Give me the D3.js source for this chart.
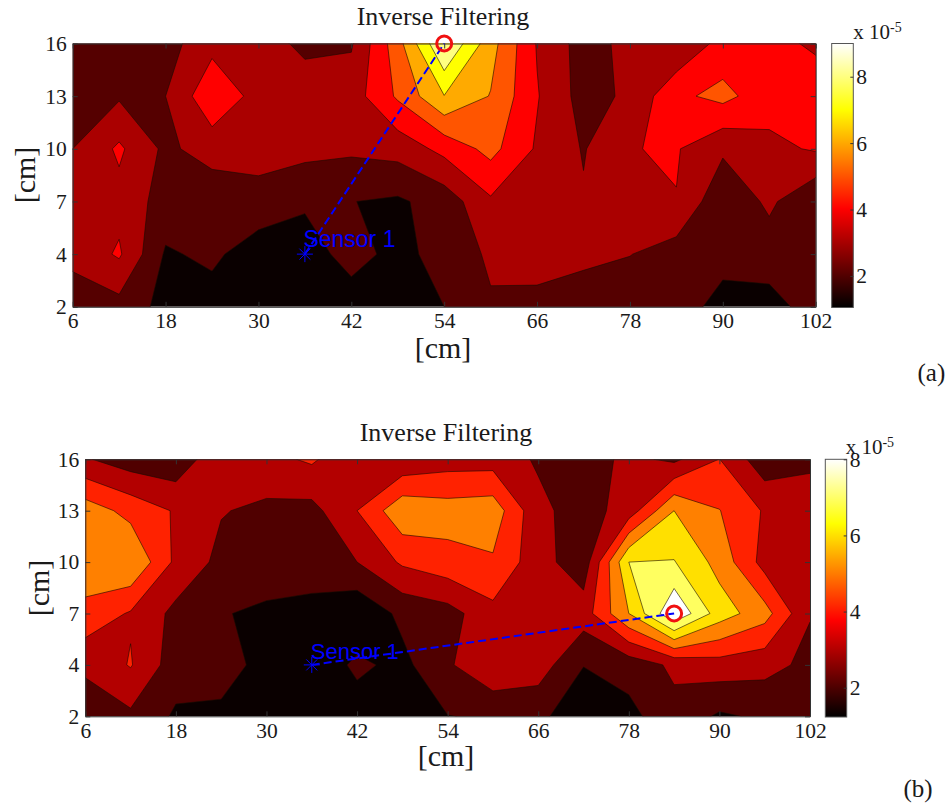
<!DOCTYPE html>
<html>
<head>
<meta charset="utf-8">
<script src="https://cdn.jsdelivr.net/npm/d3@7"></script>
<style>
  body { margin: 0; background: #fff; }
  text { font-family: "Liberation Serif", serif; fill: #1a1a1a; }
  .axis text { font-size: 21.5px; }
  .axis path, .axis line { stroke: #333; }
</style>
</head>
<body>
<svg id="chart" width="949" height="803"></svg>
<script>
const xGrid = [6, 12, 18, 24, 30, 36, 42, 48, 54, 60, 66, 72, 78, 84, 90, 96, 102];
const xTicks = [6, 18, 30, 42, 54, 66, 78, 90, 102];
const yTicks = [16, 13, 10, 7, 4, 2];
const levels = [2, 3, 4, 5, 6, 7, 8];

// values in units of 1e-5, one row per y tick, top row first
const gridA16 = [2.3, 2.3, 2.6, 3.7, 3.6, 2.7, 2.9, 5.6, 9.1, 6.4, 3.93, 2.58, 3.29, 3.08, 4.36, 4.32, 3.83];
const gridA13 = [2.7, 2.88, 3.0, 4.75, 3.65, 3.7, 3.5, 5.15, 6.97, 5.95, 4.07, 2.6, 3.19, 4.78, 5.3, 4.4, 4.6];
const gridA10 = [3.0, 4.17, 2.78, 3.46, 3.4, 3.3, 3.18, 3.38, 4.3, 5.32, 3.87, 2.93, 3.97, 4.08, 3.17, 3.77, 4.1];
const gridA7 = [3.4, 3.67, 2.59, 2.28, 2.62, 2.15, 2.02, 1.85, 2.42, 3.85, 3.4, 3.1, 3.5, 3.97, 2.2, 3.2, 2.09];
const gridA4 = [3.3, 4.13, 1.88, 2.2, 1.47, 1.5, 2.4, 1.67, 2.4, 3.15, 3.3, 3.2, 3.03, 2.52, 2.5, 2.5, 2.6];
const gridA2 = [2.4, 2.65, 1.68, 1.58, 1.2, 1.1, 1.47, 1.3, 2.0, 2.9, 2.79, 2.55, 2.3, 2.7, 1.48, 1.62, 2.45];

const gridB16 = [3.1, 2.47, 2.3, 3.8, 3.7, 4.15, 3.15, 3.18, 3.54, 3.55, 2.88, 2.5, 3.25, 2.8, 4.02, 2.35, 2.7];
const gridB13 = [5.54, 4.68, 3.9, 3.06, 2.78, 2.68, 4.0, 5.74, 5.46, 5.59, 3.25, 2.54, 3.45, 6.0, 5.03, 3.9, 3.8];
const gridB10 = [5.7, 5.98, 3.78, 2.72, 2.45, 2.5, 3.0, 4.15, 4.64, 4.87, 3.4, 2.4, 7.0, 7.05, 5.65, 3.62, 3.5];
const gridB7 = [4.67, 3.9, 2.72, 2.05, 1.85, 1.68, 1.18, 2.25, 2.6, 3.7, 3.4, 3.5, 6.0, 8.9, 6.5, 5.4, 3.05];
const gridB4 = [3.25, 4.07, 2.45, 2.3, 1.76, 1.3, 2.2, 1.73, 2.85, 3.92, 3.5, 2.03, 2.4, 3.2, 3.56, 3.34, 2.75];
const gridB2 = [2.25, 2.8, 1.86, 1.85, 1.2, 1.2, 1.53, 1.4, 1.98, 2.1, 2.25, 1.29, 1.71, 2.68, 1.85, 2.17, 2.3];

const sensor = [36, 4];
const peakA = [54, 16];
const peakB = [84, 7];
const barTicks = [2, 4, 6, 8];

const svg = d3.select("#chart");
const defs = svg.append("defs");

// matlab "hot" colormap
function hot(t) {
  const c = v => Math.round(255 * Math.max(0, Math.min(1, v)));
  return d3.rgb(c(t / 0.375), c((t - 0.375) / 0.375), c((t - 0.75) / 0.25)).formatHex();
}

function drawPanel(p) {
  const g = svg.append("g");
  const values = p.rows.flat();

  const xScale = d3.scaleLinear().domain([6, 102]).range([p.left, p.right]);
  const yIndex = d3.scaleLinear().domain([0, yTicks.length - 1]).range([p.top, p.bottom]);
  const yScale = d3.scaleLinear().domain(yTicks).range(yTicks.map((d, i) => yIndex(i)));
  const bandColor = d3.scaleOrdinal().domain(levels).range(p.bands);

  defs.append("clipPath").attr("id", "clip" + p.id)
    .append("rect")
    .attr("x", p.left).attr("y", p.top)
    .attr("width", p.right - p.left).attr("height", p.bottom - p.top);

  // d3.contours puts sample i at i + 0.5
  const project = d3.geoTransform({
    point(x, y) {
      this.stream.point(xScale(xGrid[0] + (x - 0.5) * (xGrid[1] - xGrid[0])), yIndex(y - 0.5));
    }
  });
  const path = d3.geoPath(project);
  const contours = d3.contours().size([xGrid.length, yTicks.length]).smooth(true).thresholds(levels)(values);

  const plot = g.append("g").attr("clip-path", "url(#clip" + p.id + ")");
  plot.append("rect")
    .attr("x", p.left).attr("y", p.top)
    .attr("width", p.right - p.left).attr("height", p.bottom - p.top)
    .attr("fill", "#0a0000");
  plot.selectAll("path")
    .data(contours)
    .enter().append("path")
    .attr("d", path)
    .attr("fill", d => bandColor(d.value))
    .attr("stroke", "#1a0a00")
    .attr("stroke-width", 0.6);

  // axes, ticks point inward on all four sides
  const axes = [
    [d3.axisBottom(xScale).tickValues(xTicks).tickFormat(d => d), p.bottom, null],
    [d3.axisTop(xScale).tickValues(xTicks).tickFormat(""), p.top, null],
    [d3.axisLeft(yScale).tickValues(yTicks).tickFormat(d => d), null, p.left],
    [d3.axisRight(yScale).tickValues(yTicks).tickFormat(""), null, p.right]
  ];
  axes.forEach(([axis, ty, tx]) => {
    axis.tickSizeOuter(0).tickSizeInner(-5).tickPadding(6);
    const a = g.append("g").attr("class", "axis")
      .attr("transform", "translate(" + (tx === null ? 0 : tx) + "," + (ty === null ? 0 : ty) + ")")
      .call(axis);
    a.selectAll("text").attr("fill", "#1a1a1a");
  });

  g.append("text").attr("x", p.titleX).attr("y", p.titleY)
    .attr("text-anchor", "middle").style("font-size", "26px").text("Inverse Filtering");
  g.append("text").attr("x", p.xLabelX).attr("y", p.xLabelY)
    .attr("text-anchor", "middle").style("font-size", "30px").text("[cm]");
  g.append("text")
    .attr("transform", "translate(" + p.yLabelX + "," + p.yLabelY + ") rotate(-90)")
    .attr("text-anchor", "middle").style("font-size", "30px").text("[cm]");
  g.append("text").attr("x", p.tagX).attr("y", p.tagY)
    .style("font-size", "25px").text(p.tag);

  // sensor, path to the estimated source, source marker
  const sx = xScale(sensor[0]), sy = yScale(sensor[1]);
  g.append("line")
    .attr("x1", sx).attr("y1", sy)
    .attr("x2", xScale(p.peak[0])).attr("y2", yScale(p.peak[1]))
    .attr("stroke", "#0000ff").attr("stroke-width", 2).attr("stroke-dasharray", "8,4");
  g.append("path")
    .attr("transform", "translate(" + sx + "," + sy + ")")
    .attr("d", "M-8,0H8M0,-8V8M-5.5,-5.5L5.5,5.5M-5.5,5.5L5.5,-5.5")
    .attr("stroke", "#0000ff").attr("stroke-width", 1).attr("fill", "none");
  g.append("text").attr("x", sx + p.labelDx).attr("y", sy + p.labelDy)
    .style("font-family", "'Liberation Sans', sans-serif").style("font-size", p.labelSize)
    .style("fill", "#0000ff").text("Sensor 1");
  g.append("circle")
    .attr("cx", xScale(p.peak[0])).attr("cy", yScale(p.peak[1])).attr("r", 7.5)
    .attr("fill", "none").attr("stroke", "#f01010").attr("stroke-width", 3);

  // colorbar
  const barScale = d3.scaleLinear().domain(p.barDomain).range([p.barBottom, p.barTop]);
  const grad = defs.append("linearGradient").attr("id", "grad" + p.id)
    .attr("x1", 0).attr("y1", 1).attr("x2", 0).attr("y2", 0);
  d3.range(0, 65).forEach(i => {
    grad.append("stop").attr("offset", i / 64).attr("stop-color", hot(i / 64));
  });
  g.append("rect")
    .attr("x", p.barLeft).attr("y", p.barTop)
    .attr("width", p.barRight - p.barLeft).attr("height", p.barBottom - p.barTop)
    .attr("fill", "url(#grad" + p.id + ")")
    .attr("stroke", "#555").attr("stroke-width", 1);
  const barAxis = g.append("g").attr("class", "axis")
    .attr("transform", "translate(" + p.barRight + ",0)")
    .call(d3.axisRight(barScale).tickValues(barTicks).tickFormat(d => d)
      .tickSizeOuter(0).tickSizeInner(-3).tickPadding(3));
  barAxis.select(".domain").remove();
  barAxis.selectAll("text").attr("fill", "#1a1a1a");

  const exp = g.append("text").attr("x", p.barRight + p.expDx).attr("y", p.expY).style("font-size", "21px");
  exp.append("tspan").text("x 10");
  exp.append("tspan").attr("dy", -7).style("font-size", "14px").text("-5");
}

drawPanel({
  id: "a", rows: [gridA16, gridA13, gridA10, gridA7, gridA4, gridA2],
  left: 72.7, right: 815.7, top: 43.5, bottom: 306.8,
  peak: peakA, tag: "(a)", tagX: 917.5, tagY: 381,
  titleX: 443, titleY: 25, xLabelX: 443, xLabelY: 358, yLabelX: 35, yLabelY: 175,
  labelDx: -1.5, labelDy: -7, labelSize: "23px",
  barLeft: 831.7, barRight: 853.3, barTop: 43.5, barBottom: 307.5, barDomain: [1.05, 9],
  expDx: 0, expY: 39,
  bands: ["#550000", "#aa0000", "#ff0000", "#ff5500", "#ffaa00", "#ffff00", "#ffff80"]
});

drawPanel({
  id: "b", rows: [gridB16, gridB13, gridB10, gridB7, gridB4, gridB2],
  left: 85.3, right: 810, top: 459.3, bottom: 716.3,
  peak: peakB, tag: "(b)", tagX: 903.5, tagY: 797,
  titleX: 446, titleY: 441, xLabelX: 446, xLabelY: 766, yLabelX: 49, yLabelY: 588,
  labelDx: -1, labelDy: -6, labelSize: "22px",
  barLeft: 825.3, barRight: 846.7, barTop: 459.3, barBottom: 717, barDomain: [1.23, 8],
  expDx: -1, expY: 454,
  bands: ["#500000", "#b30000", "#ff2200", "#ff8000", "#ffe000", "#ffff60", "#ffffff"]
});
</script>
</body>
</html>
